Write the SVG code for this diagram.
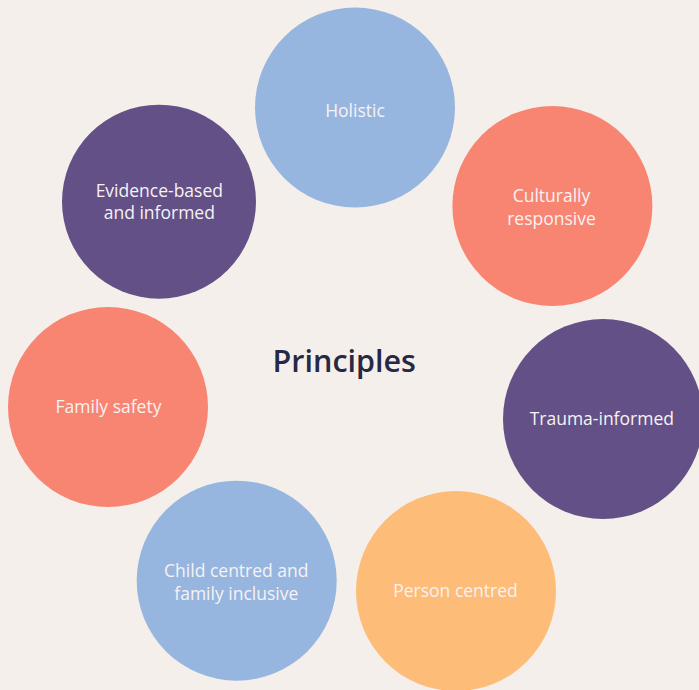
<svg xmlns="http://www.w3.org/2000/svg" width="699" height="690" viewBox="0 0 699 690">
<style>
.lbl{font-family:"Open Sans","Liberation Sans",sans-serif;font-size:17.5px;fill:#f7f2f4;text-anchor:middle}
.title{font-family:"Open Sans","Liberation Sans",sans-serif;font-size:30.5px;font-weight:600;fill:#262944;text-anchor:middle}
.blue{fill:#96b6df}.salmon{fill:#f88572}.purple{fill:#625086}.orange{fill:#fdbc77}
</style>
<rect width="699" height="690" fill="#f4efeb"/>
<g id="connectors"/>
<g id="holistic"><circle class="blue" cx="355" cy="107.5" r="100"/><text class="lbl" x="355" y="116.5">Holistic</text></g>
<g id="culturally-responsive"><circle class="salmon" cx="552.4" cy="206" r="100"/><text class="lbl" x="551.5" y="202.3">Culturally</text><text class="lbl" x="551.5" y="224.5">responsive</text></g>
<g id="trauma-informed"><circle class="purple" cx="603" cy="419" r="100"/><text class="lbl" x="601.8" y="425">Trauma-informed</text></g>
<g id="person-centred"><circle class="orange" cx="456" cy="591" r="100"/><text class="lbl" x="455.5" y="597.3">Person centred</text></g>
<g id="child-centred"><circle class="blue" cx="236.7" cy="580.7" r="100"/><text class="lbl" x="236.3" y="577.3">Child centred and</text><text class="lbl" x="236.3" y="600">family inclusive</text></g>
<g id="family-safety"><circle class="salmon" cx="108" cy="407" r="100"/><text class="lbl" x="108.5" y="413.3">Family safety</text></g>
<g id="evidence-based"><circle class="purple" cx="159" cy="201.7" r="97"/><text class="lbl" x="159.3" y="196.7">Evidence-based</text><text class="lbl" x="159.3" y="219">and informed</text></g>
<g id="principles"><text class="title" x="344.3" y="371.7">Principles</text></g>
</svg>
